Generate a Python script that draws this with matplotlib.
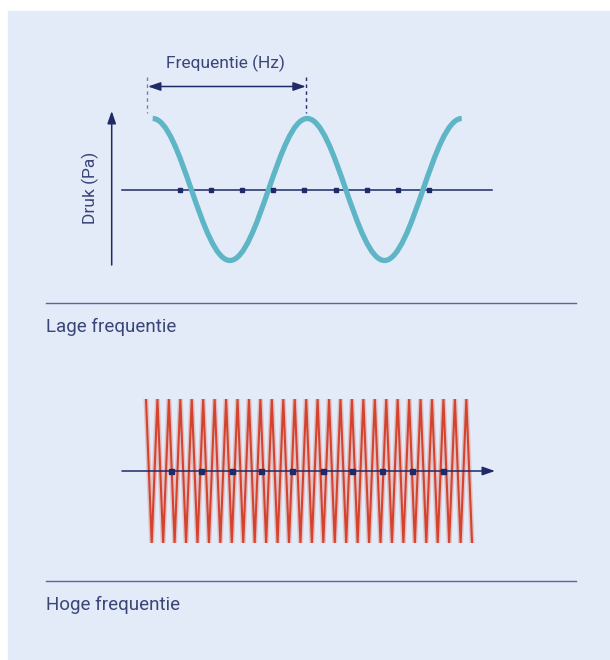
import numpy as np
import matplotlib
matplotlib.use("Agg")
from matplotlib import pyplot as plt
from matplotlib.path import Path
from matplotlib.patches import PathPatch, Rectangle, FancyArrowPatch
from matplotlib.transforms import Affine2D

# low frequency wave: extrema (in half periods) and pressure samples
low_extrema = [1, -1, 1, -1, 1]
low_samples = [0.357, 0.759, 1.160, 1.561, 1.962, 2.377, 2.778, 3.179, 3.580]

# high frequency wave: zigzag vertices, one per half period
high_values = [1, -1] * 29
high_samples = [4.37, 9.67, 15.03, 20.05, 25.58, 30.9, 35.96, 41.3, 46.56, 51.87]

labels = ["Lage frequentie", "Hoge frequentie"]
x_label = "Frequentie (Hz)"
y_label = "Druk (Pa)"

navy = '#1f2a66'
text_c = '#3a4578'
teal = '#5db5c5'
red = '#d4432e'
panel_c = '#e3ebf8'
fonts = ['Roboto', 'DejaVu Sans']

fig = plt.figure(figsize=(6.1, 6.6), dpi=100)
ax = fig.add_axes([0, 0, 1, 1])
ax.set_xlim(0, 610)
ax.set_ylim(660, 0)
ax.axis('off')

ax.add_patch(Rectangle((8, 11), 602, 648, color=panel_c, zorder=0))


def arrow(p0, p1, style='-|>'):
    a = FancyArrowPatch(p0, p1, arrowstyle=style + ',head_length=0.75,head_width=0.26',
                        mutation_scale=10, color=navy, lw=1.1, shrinkA=0, shrinkB=0, zorder=3)
    ax.add_patch(a)


# --- top: low frequency ---
low_tr = Affine2D().scale(77.25, -71).translate(152.7, 189.5) + ax.transData

# cosine halves as cubic bezier between extrema
k = 0.3634
verts = [(0, low_extrema[0])]
codes = [Path.MOVETO]
for i in range(1, len(low_extrema)):
    verts += [(i - 1 + k, low_extrema[i - 1]), (i - k, low_extrema[i]), (i, low_extrema[i])]
    codes += [Path.CURVE4] * 3
ax.add_patch(PathPatch(Path(verts, codes), fill=False, edgecolor=teal, lw=3.8,
                       capstyle='butt', transform=low_tr, zorder=2))

ax.plot([122, 492], [190, 190], color=navy, lw=1.1, zorder=1)
ax.plot(low_samples, [0] * len(low_samples), 's', ms=3.2, color=navy,
        transform=low_tr, zorder=3)

arrow((111.7, 265), (111.7, 111))
ax.text(90, 188, y_label, rotation=90, ha='center', va='center', fontsize=12.5,
        color=text_c, family=fonts)

ax.plot([147, 147], [77, 113], color='#7880a8', lw=1.0, ls=(0, (2.5, 2.5)))
ax.plot([306.3, 306.3], [77, 113], color=navy, lw=1.0, ls=(0, (2.5, 2.5)))
arrow((148, 86.5), (305.8, 86.5), style='<|-|>')
ax.text(225, 63, x_label, ha='center', va='center', fontsize=12.5,
        color=text_c, family=fonts)

ax.plot([46, 576], [303, 303], color='#5a6598', lw=1.0)
ax.text(46, 327, labels[0], ha='left', va='center', fontsize=13.5,
        color=text_c, family=fonts)

# --- bottom: high frequency ---
high_tr = Affine2D().scale(5.72, -72).translate(146, 471) + ax.transData
clip = Rectangle((130, 399), 360, 144, transform=ax.transData)
t = np.arange(len(high_values))
for lw, alpha in [(3.6, 0.25), (1.5, 1.0)]:
    ln, = ax.plot(t, high_values, color=red, lw=lw, alpha=alpha, transform=high_tr,
                  solid_joinstyle='miter', zorder=2)
    ln.set_clip_path(clip)

arrow((122, 471), (495, 471))
ax.plot(high_samples, [0] * len(high_samples), 's', ms=3.6, color=navy,
        transform=high_tr, zorder=3)

ax.plot([46, 576], [580.5, 580.5], color='#5a6598', lw=1.0)
ax.text(46, 605, labels[1], ha='left', va='center', fontsize=13.5,
        color=text_c, family=fonts)

fig.savefig('out.png', dpi=100)
